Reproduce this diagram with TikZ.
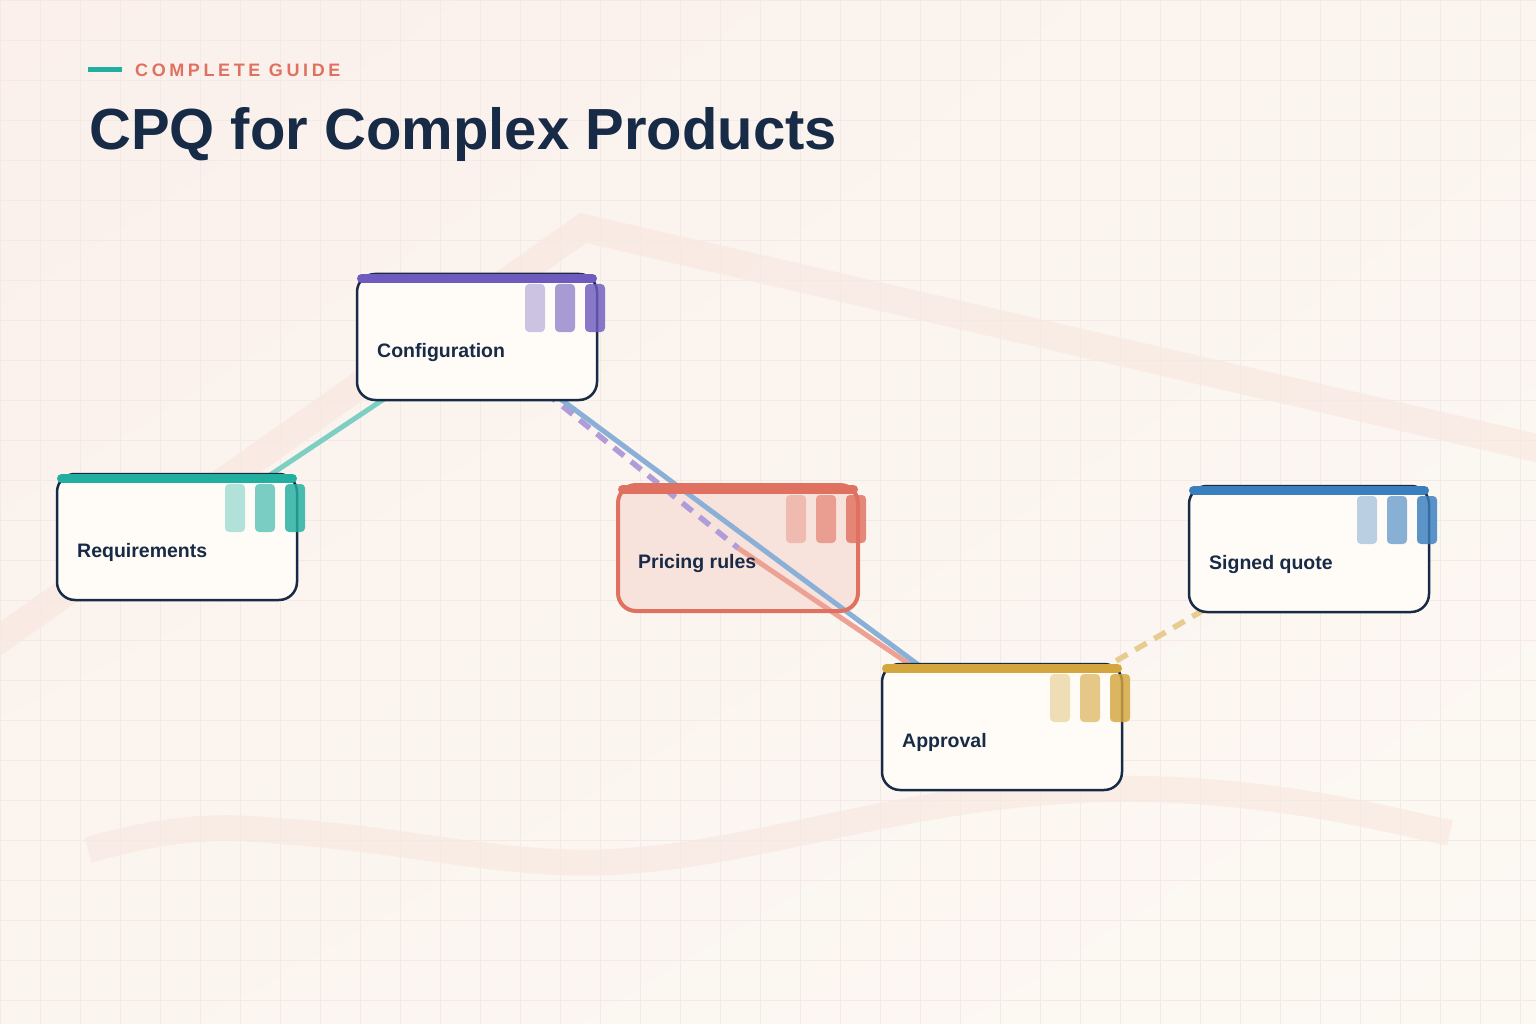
\documentclass[tikz,border=0pt]{standalone}
\usepackage{fontspec}
\setmainfont{Liberation Sans}
\usetikzlibrary{calc,shadings}
\definecolor{navy}{HTML}{172A46}
\definecolor{coral}{HTML}{E07160}
\definecolor{tealc}{HTML}{22AFA0}
\definecolor{purp}{HTML}{6F5BBE}
\definecolor{goldc}{HTML}{D4A63E}
\definecolor{bluec}{HTML}{3A7EBD}
\definecolor{cardfill}{HTML}{FFFCF7}
\definecolor{pricefill}{HTML}{F8E3DC}
\definecolor{gridc}{HTML}{F4EAE5}
\definecolor{bandc}{HTML}{F8E4DC}
\definecolor{bgA}{HTML}{FBF0EB}
\definecolor{bgB}{HTML}{FCF9F3}
\definecolor{bgC}{HTML}{FBF5F0}
\definecolor{lteal}{HTML}{7DCFC4}
\definecolor{lpurp}{HTML}{B09CD8}
\definecolor{lred}{HTML}{EDA195}
\definecolor{lblue}{HTML}{8AB0D8}
\definecolor{lgold}{HTML}{E8CB8E}
\pgfdeclarelayer{bg}
\pgfdeclarelayer{conn}
\pgfsetlayers{bg,conn,main}
\tikzset{
  cardbox/.style={draw=navy, line width=2.5pt, fill=cardfill, rounded corners=18pt,
    minimum width=240pt, minimum height=126pt, inner sep=0pt, outer sep=0pt, anchor=north west},
  pricebox/.style={draw=coral, line width=4pt, fill=none},
  cardlabel/.style={anchor=base west, inner sep=0pt, text=navy, font=\fontsize{19.5}{22}\selectfont\bfseries},
  link/.style={line width=5pt},
  dashlink/.style={line width=5.5pt, dash pattern=on 13pt off 9pt},
}
\newcommand\cpqcard[6]{%
  \node[cardbox,#6] (#1) at (#2,#3) {};
  \draw[line width=9pt, line cap=round, draw=#4] ($(#1.north west)+(4.5,4.5)$) -- ($(#1.north east)+(-4.5,4.5)$);
  \foreach \i/\o in {0/0.35,1/0.6,2/0.82}{
    \fill[#4, opacity=\o, rounded corners=4pt] ($(#1.north west)+(168+30*\i,10)$) rectangle ++(20,48);
  }
  \node[cardlabel] (#1-label) at ($(#1.north west)+(20,83)$) {#5};
}
\begin{document}
\begin{tikzpicture}[x=1pt,y=-1pt]
\useasboundingbox (0,0) rectangle (1536,1024);
\begin{pgfonlayer}{bg}
\begin{scope}
\clip (0,0) rectangle (1536,1024);
\shade[upper left=bgA, upper right=bgC, lower left=bgC, lower right=bgB] (0,0) rectangle (1536,1024);
% decorative bands
\draw[bandc, line width=28pt, line join=miter, opacity=0.5] (-30,660) -- (583,228) -- (1580,458);
\draw[bandc, line width=26pt, opacity=0.5] (88,850) .. controls (160,830) and (210,824) .. (277,831)
  .. controls (420,840) and (520,872) .. (640,860) .. controls (800,845) and (950,780) .. (1174,790)
  .. controls (1300,796) and (1390,820) .. (1450,833);
% grid
\foreach \gx in {0,40,...,1536} \draw[gridc, line width=0.7pt] (\gx,0) -- (\gx,1024);
\foreach \gy in {0,40,...,1024} \draw[gridc, line width=0.7pt] (0,\gy) -- (1536,\gy);
\end{scope}
\end{pgfonlayer}
% header
\draw[tealc, line width=5pt] (88,69.5) -- (122,69.5);
\node[anchor=base west, inner sep=0pt, text=coral] (kicker) at (135,77)
  {\fontsize{18}{20}\selectfont\bfseries\addfontfeature{LetterSpace=20}COMPLETE GUIDE};
\node[anchor=base west, inner sep=0pt, text=navy] (title) at (89,150)
  {\fontsize{58}{62}\selectfont\bfseries CPQ for Complex Products};
% cards
\cpqcard{req}{57}{474}{tealc}{Requirements}{}
\cpqcard{conf}{357}{274}{purp}{Configuration}{}
\cpqcard{appr}{882}{664}{goldc}{Approval}{}
\cpqcard{sign}{1189}{486}{bluec}{Signed quote}{}
\cpqcard{price}{618}{485}{coral}{Pricing rules}{pricebox}
% pricing card tint, under its connectors
\begin{pgfonlayer}{bg}
\fill[pricefill, rounded corners=18pt] (price.north west) rectangle (price.south east);
\end{pgfonlayer}
% connectors
\begin{pgfonlayer}{conn}
\draw[link, lteal] (req.center) -- (conf.center);
\draw[link, lred] (price.center) -- (appr.center);
\draw[dashlink, lpurp] (conf.center) -- (price.center);
\draw[link, lblue] (conf.center) -- (appr.center);
\draw[dashlink, lgold] (appr.center) -- (sign.center);
\end{pgfonlayer}
\end{tikzpicture}
\end{document}
